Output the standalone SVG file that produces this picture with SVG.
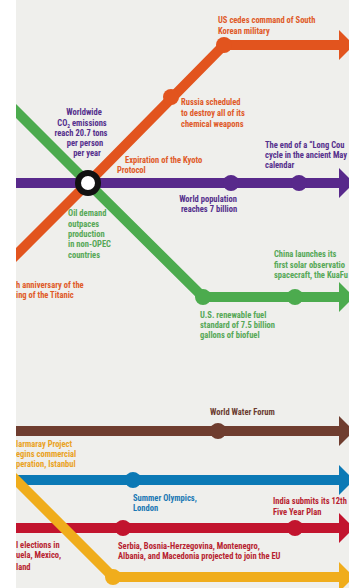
<svg xmlns="http://www.w3.org/2000/svg" xmlns:xlink="http://www.w3.org/1999/xlink" width="349" height="588" viewBox="0 0 349 588">
<style>
.t{font-family:"Liberation Sans Narrow","Roboto Condensed","DejaVu Sans Condensed","Liberation Sans",sans-serif;font-weight:bold;font-size:8.5px}
.ln{fill:none;stroke-width:10;stroke-linejoin:miter}
.or{fill:#e05a28}.orl{stroke:#e2541e}
.gr{fill:#56a857}.grl{stroke:#4cab4e}
.pu{fill:#55308c}.pul{stroke:#58298b}
.br{fill:#6b3c30}.brl{stroke:#6f3d2f}
.bl{fill:#1a78b4}.bll{stroke:#0b79b5}
.rd{fill:#b81f31}.rdl{stroke:#c2142e}
.ye{fill:#eaa21e}.yel{stroke:#f0ad1c}
</style>
<defs>
<path id="arrow" d="M0,-15 L15,0 L0,15 Z"/>
<clipPath id="bgclip"><rect x="16" y="0" width="333" height="588"/></clipPath>
</defs>
<rect x="0" y="0" width="349" height="588" fill="#ffffff"/>
<rect x="16" y="0" width="333" height="588" fill="#efefec"/>
<g clip-path="url(#bgclip)">
<g id="connectors">
<polyline class="ln orl" points="5,266 88,183 224,45 341,45"/>
<use href="#arrow" x="339" y="45" fill="#e2541e"/>
<polyline class="ln grl" points="5,100 88,183 203,297 341,297"/>
<use href="#arrow" x="339" y="297" fill="#4cab4e"/>
<line class="ln pul" x1="10" y1="183" x2="341" y2="183"/>
<use href="#arrow" x="339" y="183" fill="#58298b"/>
<line class="ln brl" x1="10" y1="431" x2="341" y2="431"/>
<use href="#arrow" x="339" y="431" fill="#6f3d2f"/>
<line class="ln bll" x1="10" y1="480" x2="341" y2="480"/>
<use href="#arrow" x="339" y="480" fill="#0b79b5"/>
<line class="ln rdl" x1="10" y1="528" x2="341" y2="528"/>
<use href="#arrow" x="339" y="528" fill="#c2142e"/>
<polyline class="ln yel" points="5,469 113,577 341,577"/>
<use href="#arrow" x="339" y="577" fill="#f0ad1c"/>
</g>
<g id="us-cedes">
<circle cx="224" cy="45" r="8" fill="#e2541e"/>
<text class="t or" x="218" y="23">US cedes command of South</text>
<text class="t or" x="218" y="34">Korean military</text>
</g>
<g id="russia">
<circle cx="171" cy="97" r="8" fill="#e2541e"/>
<text class="t or" x="181" y="105">Russia scheduled</text>
<text class="t or" x="181" y="116">to destroy all of its</text>
<text class="t or" x="181" y="127">chemical weapons</text>
</g>
<g id="co2">
<text class="t pu" text-anchor="middle" x="84" y="115">Worldwide</text>
<text class="t pu" text-anchor="middle" x="82" y="126">CO<tspan font-size="5.5" dy="2">2</tspan><tspan dy="-2"> emissions</tspan></text>
<text class="t pu" text-anchor="middle" x="81" y="136">reach 20.7 tons</text>
<text class="t pu" text-anchor="middle" x="85" y="146">per person</text>
<text class="t pu" text-anchor="middle" x="87" y="156">per year</text>
</g>
<g id="kyoto">
<circle cx="88" cy="183" r="10" fill="#ffffff" stroke="#111111" stroke-width="6"/>
<text class="t or" x="125" y="163">Expiration of the Kyoto</text>
<text class="t or" x="117" y="173">Protocol</text>
</g>
<g id="world-population">
<circle cx="231" cy="183" r="8" fill="#58298b"/>
<text class="t pu" text-anchor="middle" x="208" y="202">World population</text>
<text class="t pu" text-anchor="middle" x="209" y="212">reaches 7 billion</text>
</g>
<g id="long-count">
<circle cx="299" cy="183" r="8" fill="#58298b"/>
<text class="t pu" x="265" y="148">The end of a “Long Cou</text>
<text class="t pu" x="265" y="158">cycle in the ancient May</text>
<text class="t pu" x="265" y="168">calendar</text>
</g>
<g id="oil-demand">
<text class="t gr" x="68" y="216">Oil demand</text>
<text class="t gr" x="68" y="226.5">outpaces</text>
<text class="t gr" x="68" y="237">production</text>
<text class="t gr" x="68" y="247">in non-OPEC</text>
<text class="t gr" x="68" y="257.5">countries</text>
</g>
<g id="titanic">
<text class="t or" x="16" y="288">h anniversary of the</text>
<text class="t or" x="16" y="298">ing of the Titanic</text>
</g>
<g id="renewable-fuel">
<circle cx="203" cy="297" r="8" fill="#4cab4e"/>
<text class="t gr" x="200" y="318">U.S. renewable fuel</text>
<text class="t gr" x="200" y="328">standard of 7.5 billion</text>
<text class="t gr" x="200" y="338">gallons of biofuel</text>
</g>
<g id="china-solar">
<circle cx="295" cy="297" r="8" fill="#4cab4e"/>
<text class="t gr" x="274" y="257">China launches its</text>
<text class="t gr" x="274" y="268">first solar observatio</text>
<text class="t gr" x="274" y="278">spacecraft, the KuaFu</text>
</g>
<g id="water-forum">
<circle cx="218" cy="431" r="8" fill="#6f3d2f"/>
<text class="t br" x="210" y="415">World Water Forum</text>
</g>
<g id="marmaray">
<text class="t ye" x="16" y="447">larmaray Project</text>
<text class="t ye" x="16" y="457">egins commercial</text>
<text class="t ye" x="16" y="467">peration, Istanbul</text>
</g>
<g id="olympics">
<circle cx="133" cy="480" r="8" fill="#0b79b5"/>
<text class="t bl" x="133" y="501">Summer Olympics,</text>
<text class="t bl" x="133" y="511">London</text>
</g>
<g id="india">
<circle cx="295" cy="528" r="8" fill="#c2142e"/>
<text class="t rd" x="273" y="504">India submits its 12th</text>
<text class="t rd" x="273" y="515">Five Year Plan</text>
</g>
<g id="eu-join">
<circle cx="123" cy="528" r="8" fill="#c2142e"/>
<text class="t rd" x="118" y="549">Serbia, Bosnia-Herzegovina, Montenegro,</text>
<text class="t rd" x="118" y="559">Albania, and Macedonia projected to join the EU</text>
</g>
<g id="elections">
<text class="t rd" x="16" y="548">l elections in</text>
<text class="t rd" x="16" y="558">uela, Mexico,</text>
<text class="t rd" x="16" y="570">land</text>
</g>
<g id="yellow-corner">
<circle cx="113" cy="577" r="8" fill="#f0ad1c"/>
</g>
</g>
</svg>
